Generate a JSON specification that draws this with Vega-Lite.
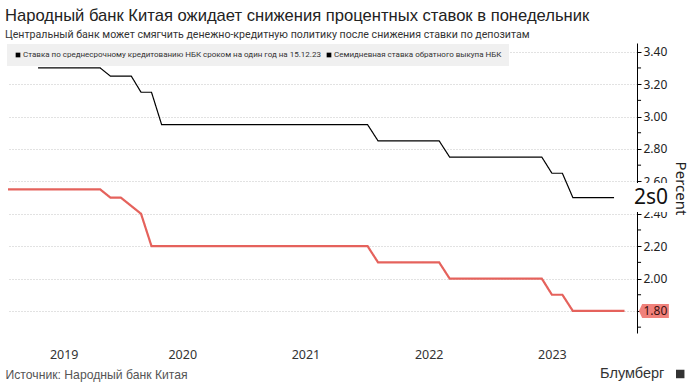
{
  "$schema": "https://vega.github.io/schema/vega-lite/v6.json",
  "width": 630,
  "height": 290,
  "autosize": {"type": "none"},
  "padding": {"left": 7, "top": 43, "right": 54, "bottom": 52},
  "background": "white",
  "title": {
    "text": "Народный банк Китая ожидает снижения процентных ставок в понедельник",
    "subtitle": "Центральный банк может смягчить денежно-кредитную политику после снижения ставки по депозитам",
    "anchor": "start",
    "frame": "group",
    "offset": 2,
    "dx": -2,
    "font": "Liberation Sans",
    "fontSize": 16.6,
    "fontWeight": "normal",
    "color": "#222222",
    "subtitleFont": "Roboto",
    "subtitleFontSize": 10.6,
    "subtitleColor": "#333333",
    "subtitlePadding": 6
  },
  "config": {"view": {"stroke": null}},
  "resolve": {"axis": {"x": "independent", "y": "independent"}},
  "datasets": {
    "rates": [
      {"date": "2019-05-01", "value": 3.30, "series": "Ставка по среднесрочному кредитованию НБК сроком на один год на 15.12.23"},
      {"date": "2019-11-01", "value": 3.30, "series": "Ставка по среднесрочному кредитованию НБК сроком на один год на 15.12.23"},
      {"date": "2019-12-01", "value": 3.25, "series": "Ставка по среднесрочному кредитованию НБК сроком на один год на 15.12.23"},
      {"date": "2020-02-01", "value": 3.25, "series": "Ставка по среднесрочному кредитованию НБК сроком на один год на 15.12.23"},
      {"date": "2020-03-01", "value": 3.15, "series": "Ставка по среднесрочному кредитованию НБК сроком на один год на 15.12.23"},
      {"date": "2020-04-01", "value": 3.15, "series": "Ставка по среднесрочному кредитованию НБК сроком на один год на 15.12.23"},
      {"date": "2020-05-01", "value": 2.95, "series": "Ставка по среднесрочному кредитованию НБК сроком на один год на 15.12.23"},
      {"date": "2022-01-01", "value": 2.95, "series": "Ставка по среднесрочному кредитованию НБК сроком на один год на 15.12.23"},
      {"date": "2022-02-01", "value": 2.85, "series": "Ставка по среднесрочному кредитованию НБК сроком на один год на 15.12.23"},
      {"date": "2022-08-01", "value": 2.85, "series": "Ставка по среднесрочному кредитованию НБК сроком на один год на 15.12.23"},
      {"date": "2022-09-01", "value": 2.75, "series": "Ставка по среднесрочному кредитованию НБК сроком на один год на 15.12.23"},
      {"date": "2023-06-01", "value": 2.75, "series": "Ставка по среднесрочному кредитованию НБК сроком на один год на 15.12.23"},
      {"date": "2023-07-01", "value": 2.65, "series": "Ставка по среднесрочному кредитованию НБК сроком на один год на 15.12.23"},
      {"date": "2023-08-01", "value": 2.65, "series": "Ставка по среднесрочному кредитованию НБК сроком на один год на 15.12.23"},
      {"date": "2023-09-01", "value": 2.50, "series": "Ставка по среднесрочному кредитованию НБК сроком на один год на 15.12.23"},
      {"date": "2024-01-01", "value": 2.50, "series": "Ставка по среднесрочному кредитованию НБК сроком на один год на 15.12.23"},
      {"date": "2019-02-01", "value": 2.55, "series": "Семидневная ставка обратного выкупа НБК"},
      {"date": "2019-11-01", "value": 2.55, "series": "Семидневная ставка обратного выкупа НБК"},
      {"date": "2019-12-01", "value": 2.50, "series": "Семидневная ставка обратного выкупа НБК"},
      {"date": "2020-01-01", "value": 2.50, "series": "Семидневная ставка обратного выкупа НБК"},
      {"date": "2020-03-01", "value": 2.40, "series": "Семидневная ставка обратного выкупа НБК"},
      {"date": "2020-04-01", "value": 2.20, "series": "Семидневная ставка обратного выкупа НБК"},
      {"date": "2022-01-01", "value": 2.20, "series": "Семидневная ставка обратного выкупа НБК"},
      {"date": "2022-02-01", "value": 2.10, "series": "Семидневная ставка обратного выкупа НБК"},
      {"date": "2022-08-01", "value": 2.10, "series": "Семидневная ставка обратного выкупа НБК"},
      {"date": "2022-09-01", "value": 2.00, "series": "Семидневная ставка обратного выкупа НБК"},
      {"date": "2023-06-01", "value": 2.00, "series": "Семидневная ставка обратного выкупа НБК"},
      {"date": "2023-07-01", "value": 1.90, "series": "Семидневная ставка обратного выкупа НБК"},
      {"date": "2023-08-01", "value": 1.90, "series": "Семидневная ставка обратного выкупа НБК"},
      {"date": "2023-09-01", "value": 1.80, "series": "Семидневная ставка обратного выкупа НБК"},
      {"date": "2024-02-01", "value": 1.80, "series": "Семидневная ставка обратного выкупа НБК"}
    ]
  },
  "layer": [
    {
      "data": {"name": "rates"},
      "mark": {"type": "line", "interpolate": "linear"},
      "encoding": {
        "x": {
          "field": "date", "type": "temporal",
          "scale": {"type": "utc", "domain": [{"year": 2019, "month": 1, "date": 29, "utc": true}, {"year": 2024, "month": 3, "date": 9, "utc": true}]},
          "axis": {
            "values": [
              {"year": 2019, "month": 7, "date": 16, "utc": true},
              {"year": 2020, "month": 7, "date": 1, "utc": true},
              {"year": 2021, "month": 7, "date": 1, "utc": true},
              {"year": 2022, "month": 7, "date": 1, "utc": true},
              {"year": 2023, "month": 7, "date": 1, "utc": true}
            ],
            "labelExpr": "utcFormat(datum.value, '%Y')",
            "domain": false, "ticks": false, "tickSize": 0, "grid": false,
            "labelPadding": 15, "labelFont": "Noto Sans", "labelFontSize": 12.5, "labelColor": "#333333",
            "labelFlush": false, "labelOverlap": false,
            "title": "Источник: Народный банк Китая",
            "titleAnchor": "start", "titleAlign": "left", "titleX": -2, "titleY": 41, "titleBaseline": "middle",
            "titleFont": "Liberation Sans", "titleFontSize": 12.2, "titleFontWeight": "normal", "titleColor": "#555555"
          }
        },
        "y": {
          "field": "value", "type": "quantitative",
          "scale": {"domain": [1.664, 3.454], "zero": false, "nice": false},
          "axis": {
            "orient": "right",
            "values": [1.8, 2.0, 2.2, 2.4, 2.6, 2.8, 3.0, 3.2, 3.4],
            "format": ".2f",
            "labelOverlap": false, "labelFlush": false,
            "domain": true, "domainColor": "#000000", "domainWidth": 1,
            "ticks": true, "tickColor": "#000000", "tickSize": 4, "tickWidth": 1,
            "labelPadding": 2, "labelFont": "Noto Sans", "labelFontSize": 12, "labelColor": "#222222",
            "grid": true, "gridColor": "#c4c4c4", "gridDash": [1, 2], "gridWidth": 1,
            "title": "Percent", "titleFont": "Noto Sans", "titleFontSize": 15, "titleFontWeight": "normal",
            "titleColor": "#222222", "titlePadding": 6
          }
        },
        "color": {
          "field": "series", "type": "nominal",
          "scale": {"domain": ["Ставка по среднесрочному кредитованию НБК сроком на один год на 15.12.23", "Семидневная ставка обратного выкупа НБК"], "range": ["#000000", "#e5625c"]},
          "legend": null
        },
        "strokeWidth": {
          "field": "series", "type": "ordinal",
          "scale": {"domain": ["Ставка по среднесрочному кредитованию НБК сроком на один год на 15.12.23", "Семидневная ставка обратного выкупа НБК"], "range": [1.2, 2.2]},
          "legend": null
        },
        "strokeDash": {
          "field": "series", "type": "nominal",
          "sort": "descending",
          "scale": {"range": [[1, 0], [1, 0]]},
          "legend": {
            "orient": "none", "legendX": 0, "legendY": 1, "direction": "horizontal", "title": null,
            "fillColor": "#f0f0f0", "padding": 7, "symbolType": "square", "symbolSize": 22, "symbolStrokeWidth": 0,
            "symbolFillColor": "#000000", "symbolStrokeColor": "#000000", "symbolOpacity": 1,
            "labelFont": "Roboto", "labelFontSize": 8, "labelColor": "#333333", "labelLimit": 500,
            "columnPadding": 4, "labelOffset": 1
          }
        }
      }
    },
    {
      "data": {"values": [{"tick": 1.7}, {"tick": 1.9}, {"tick": 2.1}, {"tick": 2.3}, {"tick": 2.5}, {"tick": 2.7}, {"tick": 2.9}, {"tick": 3.1}, {"tick": 3.3}]},
      "mark": {"type": "rule", "color": "#000000", "strokeWidth": 1, "clip": false},
      "encoding": {
        "x": {"datum": {"year": 2024, "month": 3, "date": 9, "utc": true}, "type": "temporal", "axis": null},
        "x2": {"datum": {"year": 2024, "month": 3, "date": 21, "utc": true}},
        "y": {"field": "tick", "type": "quantitative", "axis": null}
      }
    },
    {
      "data": {"values": [{}]},
      "mark": {"type": "rect", "fill": "#ffffff", "clip": false},
      "encoding": {
        "x": {"datum": {"year": 2024, "month": 2, "date": 20, "utc": true}, "type": "temporal", "axis": null},
        "x2": {"datum": {"year": 2024, "month": 6, "date": 22, "utc": true}},
        "y": {"datum": 2.59, "type": "quantitative", "axis": null},
        "y2": {"datum": 2.411}
      }
    },
    {
      "data": {"values": [{}]},
      "mark": {"type": "text", "align": "left", "baseline": "middle", "font": "Noto Sans", "fontSize": 21, "color": "#111111", "clip": false},
      "encoding": {
        "x": {"datum": {"year": 2024, "month": 2, "date": 29, "utc": true}, "type": "temporal", "axis": null},
        "y": {"datum": 2.5, "type": "quantitative", "axis": null},
        "text": {"value": "2s0"}
      }
    },
    {
      "data": {"values": [{}]},
      "mark": {"type": "point", "shape": "M-1,0L-0.78,-0.47L1,-0.47L1,0.47L-0.78,0.47Z", "filled": true, "fill": "#f0817b", "opacity": 1, "size": 900, "strokeWidth": 0, "clip": false},
      "encoding": {
        "x": {"datum": {"year": 2024, "month": 4, "date": 28, "utc": true}, "type": "temporal", "axis": null},
        "y": {"datum": 1.8, "type": "quantitative", "axis": null}
      }
    },
    {
      "data": {"values": [{}]},
      "mark": {"type": "text", "align": "center", "baseline": "middle", "font": "Noto Sans", "fontSize": 12, "color": "#3a1010", "dx": 1.5, "clip": false},
      "encoding": {
        "x": {"datum": {"year": 2024, "month": 4, "date": 28, "utc": true}, "type": "temporal", "axis": null},
        "y": {"datum": 1.8, "type": "quantitative", "axis": null},
        "text": {"value": "1.80"}
      }
    },
    {
      "data": {"values": [{}]},
      "mark": {"type": "text", "align": "right", "baseline": "middle", "font": "Liberation Sans", "fontSize": 14.5, "color": "#333333", "clip": false},
      "encoding": {
        "x": {"datum": {"year": 2024, "month": 5, "date": 29, "utc": true}, "type": "temporal", "axis": null},
        "y": {"datum": 1.411, "type": "quantitative", "axis": null},
        "text": {"value": "Блумберг"}
      }
    },
    {
      "data": {"values": [{}]},
      "mark": {"type": "point", "shape": "square", "filled": true, "fill": "#333333", "opacity": 1, "size": 72, "clip": false},
      "encoding": {
        "x": {"datum": {"year": 2024, "month": 7, "date": 15, "utc": true}, "type": "temporal", "axis": null},
        "y": {"datum": 1.411, "type": "quantitative", "axis": null}
      }
    }
  ]
}
